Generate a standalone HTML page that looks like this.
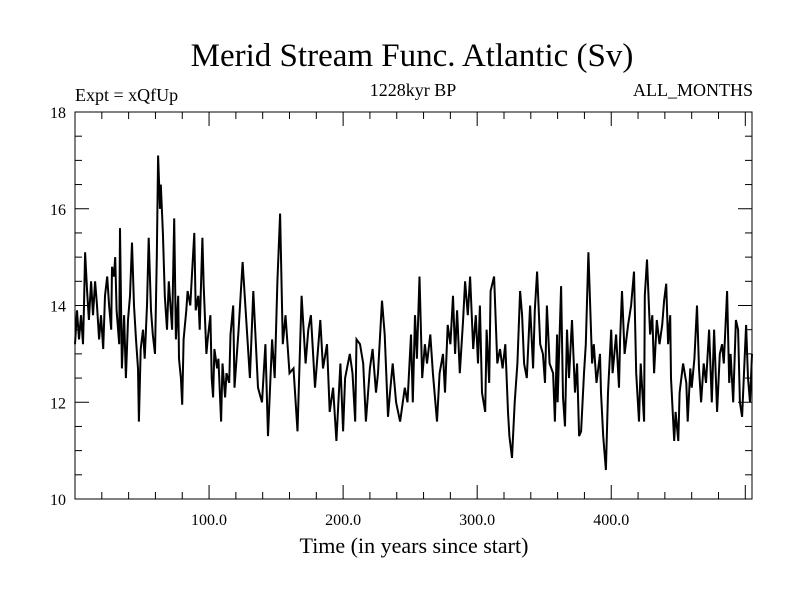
<!DOCTYPE html>
<html><head><meta charset="utf-8"><style>
body{margin:0;background:#fff;}
svg{display:block;font-family:"Liberation Serif",serif;}
</style></head><body>
<svg id="chart" width="800" height="600">
<text x="412" y="66" font-size="33" text-anchor="middle">Merid Stream Func. Atlantic (Sv)</text>
<text x="75" y="101" font-size="18">Expt = xQfUp</text>
<text x="413" y="96" font-size="18" text-anchor="middle">1228kyr BP</text>
<text x="753" y="96" font-size="18" text-anchor="end">ALL_MONTHS</text>
<text x="414" y="553" font-size="22" text-anchor="middle">Time (in years since start)</text>
<rect x="75" y="112" width="677" height="387" fill="none" stroke="#000" stroke-width="1"/>
<g id="ticks"></g>
<path id="series" fill="none" stroke="#000" stroke-width="2"/>
</svg>
<script>
const years = [0,1.5,3,4.5,6,6.7,7.5,9,10.4,12,13.4,15,16.4,18,19.4,21,22.4,24,25.4,27,27.6,29,30,31,33,33.6,35,36.6,38,39.5,41,42.5,44,45.5,47,47.7,49,50.7,52,53.7,55,56.7,58,59.7,61,62,63.4,64,65.6,67,68.6,70,72.4,74,75.3,77,77.6,79,80,81,83,84,86,87,89,90,92,93,95,96,98,99,101,102,103,104,106,107,109,110,112,113,115,116,118,119,
122,125,130.5,133,136.5,139.5,142,144,147,149,151,153,155,157,160,163,166,169,172,174,176,179,183,185,188,190,192.5,195,198,200,201.5,205,207,209,210,212.6,215,217,220,222,224.5,226,229,231,233.5,235,237,239.5,242.5,246,248,250.6,252,253.6,255,257,
259,261,262.6,265,267,270,272,274.5,276,278,280,282,283.5,285,287,289.5,291,293,294.7,297,299,300.6,302,303.6,306,307,309,310,312.6,315,317,319,321,323,324,326,328,330,332,333.5,335,337,339.5,341.7,343,344.7,347,349,350.6,352,354,356.6,358,359.6,360,362.6,364,365.5,367,368.5,370.7,373,374.5,376,377.5,379.7,381,383,
385.7,387,389,391.6,392.4,394,396,397.6,400,401,403.6,405.8,406.6,408,410,412.6,414.8,417,418.6,420.7,422,424.5,425,426.7,429,430.6,432,434,436,438,439.4,441,442.4,444,444.6,447,448,450,451,453.6,456,457,459,460,462,464,465.5,467,469,470.7,473,475,476.7,479,481,482.7,484,486.4,488,489,491,493,494.6,496,497.6,499,500.6,502,503.5,505];
const values = [13.2,13.9,13.3,13.8,13.2,14.0,15.1,14.3,13.7,14.5,13.8,14.5,14.0,13.3,13.8,13.1,14.2,14.6,14.0,13.5,14.8,14.6,15.0,13.9,13.2,15.6,12.7,13.8,12.5,13.7,14.2,15.3,14.0,13.3,12.7,11.6,13.1,13.5,12.9,14.0,15.4,13.9,13.4,13.0,15.0,17.1,16.0,16.5,15.5,14.2,13.5,14.5,13.5,15.8,13.3,14.2,12.9,12.5,11.95,13.3,13.9,14.3,14.0,14.5,15.5,13.9,14.2,13.5,15.4,14.4,13.0,13.3,13.8,12.5,12.1,13.1,12.7,12.9,11.6,12.8,12.1,12.6,12.4,13.4,14.0,12.3,
13.5,14.9,12.5,14.3,12.3,12.0,13.2,11.3,13.3,12.5,14.5,15.9,13.2,13.8,12.6,12.7,11.4,14.2,12.8,13.5,13.8,12.3,13.7,12.7,13.2,11.8,12.3,11.2,12.8,11.4,12.5,13.0,12.6,11.6,13.3,13.2,12.8,11.6,12.7,13.1,12.2,12.6,14.1,13.4,11.7,12.2,12.8,12.0,11.6,12.3,12.0,13.4,12.0,13.8,12.9,14.6,12.5,
13.2,12.8,13.4,12.6,11.6,12.6,13.0,12.2,13.6,13.2,14.2,13.0,13.9,12.6,13.7,14.5,13.8,14.6,13.1,13.8,12.8,14.0,12.2,11.8,13.5,12.4,14.3,14.6,12.8,13.1,12.7,13.2,11.8,11.3,10.85,12.0,12.8,14.3,13.8,12.8,12.5,14.0,12.7,13.9,14.7,13.2,13.0,12.4,14.0,12.8,12.6,11.6,13.4,12.0,14.4,12.1,11.5,13.5,12.5,13.7,12.2,12.8,11.3,11.4,12.6,13.2,15.1,12.8,
13.2,12.4,13.0,12.2,11.3,10.6,12.2,13.5,12.6,13.4,12.3,13.3,14.3,13.0,13.6,14.0,14.7,12.6,11.6,12.8,11.6,14.2,14.95,13.4,13.8,12.6,13.7,13.2,13.6,14.1,14.45,13.2,13.8,12.5,11.2,11.8,11.2,12.2,12.8,12.4,11.6,12.7,12.3,12.9,14.0,12.7,12.0,12.8,12.4,13.5,12.0,13.5,11.8,13.0,13.2,12.8,14.3,12.4,13.0,12.0,13.7,13.5,12.0,11.7,12.6,13.6,12.5,12.0,13.0,12.3];
const yTickLabels = [10,12,14,16,18];
const xTickLabels = [100,200,300,400];

const X0=75,X1=752,Y0=499,Y1=112,XMIN=0,XMAX=505,YMIN=10,YMAX=18;
const sx=v=>X0+(v-XMIN)/(XMAX-XMIN)*(X1-X0);
const sy=v=>Y0-(v-YMIN)/(YMAX-YMIN)*(Y0-Y1);
const NS='http://www.w3.org/2000/svg';
const g=document.getElementById('ticks');
function line(x1,y1,x2,y2,name){
  const l=document.createElementNS(NS,'line');
  l.setAttribute('x1',x1);l.setAttribute('y1',y1);l.setAttribute('x2',x2);l.setAttribute('y2',y2);
  l.setAttribute('stroke','#000');l.setAttribute('stroke-width','1');
  
  
  g.appendChild(l);
}
function text(x,y,s,anchor,name){
  const t=document.createElementNS(NS,'text');
  t.setAttribute('x',x);t.setAttribute('y',y);t.setAttribute('font-size','16');t.setAttribute('text-anchor',anchor);
  t.textContent=s;
  
  
  document.getElementById('chart').appendChild(t);
}
for(let v=YMIN;v<=YMAX+1e-9;v+=0.5){
  const major=Math.abs(v-Math.round(v/2)*2)<1e-9;
  const len=major?14:7;
  line(X0,sy(v),X0+len,sy(v),'y-tick');
  line(X1,sy(v),X1-len,sy(v),'y-tick-right');
}
yTickLabels.forEach(v=>text(66,sy(v)+6,String(v),'end','y-tick-label'));
for(let v=20;v<XMAX;v+=20){
  const major=v%100===0;
  const len=major?14:7;
  line(sx(v),Y0,sx(v),Y0-len,'x-tick');
  line(sx(v),Y1,sx(v),Y1+len,'x-tick-top');
}
xTickLabels.forEach(v=>text(sx(v),525,v.toFixed(1),'middle','x-tick-label'));
let d='';
years.forEach((yr,i)=>{d+=(i?'L':'M')+sx(yr).toFixed(1)+','+sy(values[i]).toFixed(1);});
document.getElementById('series').setAttribute('d',d);
</script>
</body></html>
